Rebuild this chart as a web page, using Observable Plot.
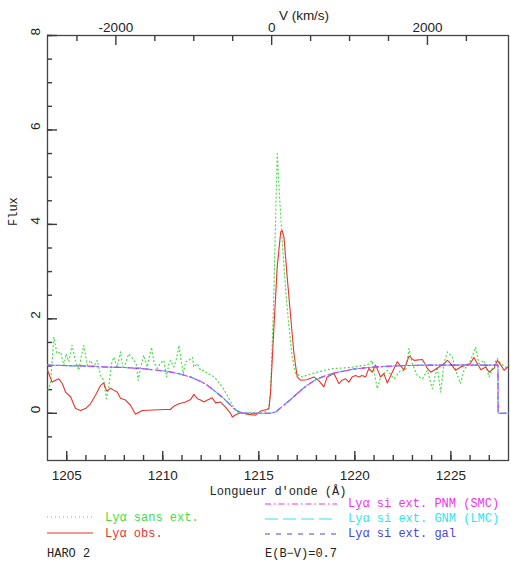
<!DOCTYPE html>
<html><head><meta charset="utf-8">
<script src="https://cdn.jsdelivr.net/npm/d3@7"></script>
<script src="https://cdn.jsdelivr.net/npm/@observablehq/plot@0.6"></script>
<style>
body{margin:0;background:#fff;}
#wrap{width:511px;}
#wrap svg{display:block;}
</style>
</head><body><div id="wrap"></div>
<script>
// ---- data ----
const obsWl = [1204.0,1204.24,1204.59,1204.77,1204.94,1205.2,1205.46,1205.72,1205.98,1206.24,1206.5,1206.76,1206.93,1207.02,1207.1,1207.28,1207.45,1207.63,1207.8,1208.06,1208.32,1208.58,1208.93,1209.5,1210.15,1210.4,1210.58,1210.84,1211.19,1211.45,1211.62,1211.8,1211.97,1212.14,1212.32,1212.58,1212.75,1213.0,1213.27,1213.53,1213.62,1213.8,1214.05,1214.4,1214.83,1215.1,1215.4,1215.53,1215.61,1215.79,1215.96,1216.14,1216.22,1216.31,1216.48,1216.66,1216.83,1217.0,1217.18,1217.5,1217.87,1218.1,1218.39,1218.56,1218.91,1219.17,1219.34,1219.52,1219.69,1219.86,1220.04,1220.21,1220.38,1220.56,1220.73,1220.9,1221.08,1221.34,1221.51,1221.69,1221.95,1222.21,1222.39,1222.56,1222.82,1223.08,1223.52,1223.78,1223.95,1224.12,1224.38,1224.64,1224.82,1224.99,1225.25,1225.51,1225.77,1226.0,1226.2,1226.38,1226.56,1226.82,1226.99,1227.25,1227.42,1227.6,1227.77,1227.95];
const obsFlux = [0.91,0.66,0.73,0.63,0.45,0.35,0.10,0.06,0.10,0.20,0.38,0.59,0.64,0.53,0.47,0.53,0.49,0.45,0.32,0.28,0.17,-0.02,0.06,0.07,0.08,0.08,0.15,0.20,0.24,0.29,0.40,0.31,0.28,0.24,0.28,0.33,0.22,0.24,0.13,0.00,-0.08,-0.03,0.01,-0.02,-0.04,0.05,0.08,0.10,0.42,1.83,3.10,3.84,3.87,3.73,2.88,2.04,1.26,0.77,0.70,0.71,0.77,0.70,0.56,0.77,0.84,0.63,0.70,0.73,0.66,0.77,0.80,0.77,0.80,0.77,0.95,0.87,1.02,0.77,0.84,0.64,0.87,1.09,1.00,0.92,1.21,1.12,1.14,0.95,0.87,0.91,0.98,1.05,1.12,1.05,0.91,0.98,1.02,1.05,1.18,1.05,0.92,0.98,0.87,0.95,1.12,1.02,0.91,0.98];

const noExtWl = [1204.03,1204.16,1204.33,1204.5,1204.68,1204.85,1204.97,1205.11,1205.28,1205.45,1205.63,1205.75,1205.89,1206.07,1206.24,1206.41,1206.59,1206.76,1206.93,1207.06,1207.19,1207.33,1207.45,1207.63,1207.8,1207.92,1208.06,1208.23,1208.44,1208.62,1208.72,1208.84,1209.01,1209.19,1209.42,1209.54,1209.71,1209.89,1210.06,1210.2,1210.32,1210.4,1210.58,1210.72,1210.84,1210.93,1211.07,1211.19,1211.36,1211.54,1211.62,1211.8,1211.97,1212.14,1212.32,1212.58,1212.84,1213.1,1213.36,1213.62,1213.88,1214.2,1214.6,1215.0,1215.3,1215.5,1215.61,1215.77,1215.88,1215.96,1216.08,1216.22,1216.4,1216.57,1216.74,1216.9,1217.26,1217.6,1218.05,1218.5,1218.91,1219.35,1219.78,1220.2,1220.65,1220.9,1221.17,1221.34,1221.69,1222.04,1222.39,1222.65,1222.82,1222.99,1223.25,1223.52,1223.78,1224.03,1224.29,1224.47,1224.64,1224.82,1225.08,1225.25,1225.5,1225.68,1226.03,1226.29,1226.46,1226.73,1226.99,1227.25,1227.42,1227.6,1227.86];
const noExtFlux = [0.49,0.66,1.61,1.26,1.30,1.02,1.26,1.09,1.44,1.12,0.91,1.19,1.44,1.02,1.12,0.98,1.12,0.80,0.70,0.31,0.56,1.05,1.19,0.98,1.30,0.98,1.05,1.26,1.16,1.05,0.70,0.95,1.23,0.98,1.40,1.09,0.95,1.07,1.12,0.77,1.05,1.12,0.98,1.16,1.44,1.19,0.84,1.09,1.12,1.19,0.98,1.05,0.91,0.91,0.84,0.80,0.70,0.56,0.38,0.17,0.03,0.00,0.02,-0.01,0.03,0.08,0.45,2.30,4.20,5.50,4.60,3.66,2.60,1.83,1.19,0.85,0.77,0.82,0.87,0.92,0.95,0.96,0.97,1.00,1.02,1.12,0.52,0.77,0.91,0.73,0.91,0.91,1.37,1.05,0.80,0.73,0.91,0.52,0.98,0.45,1.05,1.30,1.19,0.91,0.63,0.91,1.12,1.40,1.05,1.12,0.77,1.05,1.16,1.05,0.98];

const modelWl = [1204.0,1205.0,1206.0,1207.0,1208.0,1208.8,1209.5,1210.2,1210.6,1211.0,1211.5,1212.0,1212.3,1212.8,1213.1,1213.36,1213.6,1213.8,1214.1,1214.4,1215.0,1215.6,1215.9,1216.2,1216.6,1217.0,1217.5,1218.0,1218.5,1219.0,1219.5,1220.0,1220.7,1221.5,1222.5,1224.0,1227.45,1227.46,1228.0];
const modelFlux = [1.02,1.01,1.00,0.98,0.97,0.95,0.92,0.89,0.86,0.82,0.76,0.67,0.60,0.44,0.34,0.24,0.14,0.07,0.01,0.0,0.0,0.0,0.03,0.14,0.27,0.42,0.59,0.72,0.80,0.86,0.90,0.94,0.97,0.99,1.01,1.02,1.02,0.0,0.0];

const wlMinorTicks = d3.range(1205, 1228, 1);
const wlMajorTicks = [1205, 1210, 1215, 1220, 1225];
const fluxMinorTicks = d3.range(-0.5, 8.01, 0.5);
const fluxMajorTicks = [0, 2, 4, 6, 8];
const velMinorTicks = [-2500, -1500, -1000, -500, 500, 1000, 1500, 2500];
const velMajorTicks = [-2000, 0, 2000];
const lyaRest = 1215.67;
const cLight = 299792.458;
const velToWl = v => lyaRest * (1 + v / cLight);
const wlToVel = w => String(Math.round((w / lyaRest - 1) * cLight / 500) * 500);

const series = (wl, fl) => wl.map((w, i) => ({w, f: fl[i]}));
const obs = series(obsWl, obsFlux);
const noExt = series(noExtWl, noExtFlux);
const model = series(modelWl, modelFlux);

const C = {green: "#3fe03f", red: "#e8352c", magenta: "#ee33ee", cyan: "#2ee6ee", blue: "#4646e6", frame: "#444"};
const axisFont = "Liberation Sans, Arial, sans-serif";
const monoFont = "Liberation Mono, Courier New, monospace";

const W = 511, H = 500, mL = 47, mR = 3, mT = 35, mB = 40;
const tk = {stroke: "#3a3a3a", strokeWidth: 1.4, label: null, tickFormat: () => ""};

const chart = Plot.plot({
  width: W, height: H,
  marginLeft: mL, marginRight: mR, marginTop: mT, marginBottom: mB,
  style: {fontFamily: axisFont, fontSize: "13.5px", background: "transparent", overflow: "visible"},
  x: {domain: [1204, 1228], axis: null},
  y: {domain: [-1, 8], axis: null},
  marks: [
    Plot.frame({stroke: C.frame, strokeWidth: 1.3}),
    // bottom axis: inward ticks + labels
    Plot.axisX(wlMinorTicks, {anchor: "bottom", tickSize: -5, ...tk}),
    Plot.axisX(wlMajorTicks, {anchor: "bottom", tickSize: -9, ...tk}),
    Plot.axisX(wlMajorTicks, {anchor: "bottom", tickSize: 0, tickPadding: 10, label: null, fill: "#222", fontSize: 13.5, tickFormat: d => String(d)}),
    // left axis
    Plot.axisY(fluxMinorTicks, {anchor: "left", tickSize: -5, ...tk}),
    Plot.axisY(fluxMajorTicks, {anchor: "left", tickSize: -10, ...tk}),
    Plot.text(fluxMajorTicks, {y: d => d, text: d => String(d), frameAnchor: "left", dx: -12, rotate: -90, fill: "#222", fontSize: 13.5}),
    // top axis (velocity)
    Plot.axisX(velMinorTicks.map(velToWl), {anchor: "top", tickSize: -5, ...tk}),
    Plot.axisX(velMajorTicks.map(velToWl), {anchor: "top", tickSize: -9, ...tk}),
    Plot.axisX(velMajorTicks.map(velToWl), {anchor: "top", tickSize: 0, tickPadding: 4, label: null, fill: "#222", fontSize: 13.5, tickFormat: wlToVel}),
    // spectra
    Plot.line(noExt, {x: "w", y: "f", stroke: C.green, strokeWidth: 1.2, strokeDasharray: "1,3"}),
    Plot.line(obs, {x: "w", y: "f", stroke: C.red, strokeWidth: 1.1}),
    Plot.line(model, {x: "w", y: "f", stroke: C.blue, strokeWidth: 1.1, strokeDasharray: "5,6"}),
    Plot.line(model, {x: "w", y: "f", stroke: C.cyan, strokeWidth: 1.1, strokeDasharray: "13,5"}),
    Plot.line(model, {x: "w", y: "f", stroke: C.magenta, strokeWidth: 1.1, strokeDasharray: "6,3,1.5,3"}),
    // axis titles
    Plot.text(["V (km/s)"], {frameAnchor: "top", dx: 26, dy: -25, fill: "#222", fontSize: 13.5}),
    Plot.text(["Flux"], {frameAnchor: "left", dx: -34, dy: -22, rotate: -90, fill: "#222", fontSize: 12, fontFamily: monoFont}),
    Plot.text(["Longueur d'onde (Å)"], {frameAnchor: "bottom", dy: 34, fill: "#222", fontSize: 12, fontFamily: monoFont})
  ]
});
document.getElementById("wrap").appendChild(chart);

// ---- legend (below the chart) ----
const legendLeft = [
  {label: "Lyα sans ext.", color: C.green, dash: "1,3"},
  {label: "Lyα obs.", color: C.red, dash: null}
];
const legendRight = [
  {label: "Lyα si ext. PNM (SMC)", color: C.magenta, dash: "6,3,1.5,3"},
  {label: "Lyα si ext. GNM (LMC)", color: C.cyan, dash: "13,5"},
  {label: "Lyα si ext. gal", color: C.blue, dash: "5,6"}
];
const notes = [{label: "HARO 2", col: 0}, {label: "E(B−V)=0.7", col: 1}];

const top0 = H; // legend svg starts below chart
const svg = d3.select("#wrap").append("svg").attr("width", W).attr("height", 562 - H).style("overflow", "visible");
const g = svg.append("g").attr("font-family", monoFont).attr("font-size", 12);
legendLeft.forEach((d, i) => {
  const y = 517 + i * 16 - top0;
  g.append("line").attr("x1", 47).attr("x2", 93).attr("y1", y).attr("y2", y)
    .attr("stroke", d.color).attr("stroke-width", 1.2).attr("stroke-dasharray", d.dash);
  g.append("text").attr("x", 105).attr("y", y).attr("dy", "0.35em").attr("fill", d.color).text(d.label);
});
legendRight.forEach((d, i) => {
  const y = 504 + i * 15 - top0;
  g.append("line").attr("x1", 265).attr("x2", 337).attr("y1", y).attr("y2", y)
    .attr("stroke", d.color).attr("stroke-width", 1.2).attr("stroke-dasharray", d.dash);
  g.append("text").attr("x", 348).attr("y", y - 1).attr("dy", "0.35em").attr("fill", d.color).text(d.label);
});
notes.forEach(d => {
  g.append("text").attr("x", d.col ? 265 : 47).attr("y", 553 - top0).attr("dy", "0.35em").attr("fill", "#222").text(d.label);
});
</script>
</body></html>
